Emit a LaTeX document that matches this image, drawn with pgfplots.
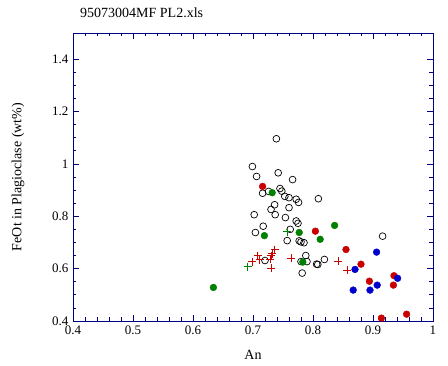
\documentclass[border=0pt]{standalone}
\usepackage{pgfplots}
\pgfplotsset{compat=1.18}
\usepackage{fontspec}
\setmainfont{Liberation Serif}
\definecolor{axnavy}{RGB}{0,0,128}
\definecolor{mred}{RGB}{200,0,0}
\definecolor{mgreen}{RGB}{0,128,0}
\definecolor{mblue}{RGB}{0,0,205}
\begin{document}
\begin{tikzpicture}[x=1pt,y=1pt]
\useasboundingbox (-73,-45) rectangle (375,321);
\begin{axis}[
  at={(0,0)}, anchor=south west,
  scale only axis, width=360pt, height=288pt,
  xmin=0.4, xmax=1, ymin=0.4, ymax=1.5,
  xtick={0.4,0.5,...,1.0}, ytick={0.4,0.6,...,1.4},
  minor x tick num=4, minor y tick num=3,
  tick align=inside,
  major tick length=6pt, minor tick length=3.5pt,
  axis line style={axnavy, line width=0.8pt},
  every tick/.style={axnavy, line width=0.8pt},
  tick label style={font=\fontsize{13}{15}\selectfont, text=black},
  /pgf/number format/assume math mode=true,
  xticklabel style={yshift=-1pt},
  yticklabel style={xshift=-1pt},
  xlabel={An}, ylabel={FeOt in Plagioclase (wt\%)},
  label style={font=\fontsize{14}{16}\selectfont},
  xlabel style={at={(0.5,0)}, anchor=center, yshift=-34pt},
  ylabel style={at={(0,0.5)}, anchor=center, rotate=0, yshift=55pt},
  title={95073004MF PL2.xls},
  title style={at={(0,1)}, anchor=south west, xshift=7pt, yshift=9pt, font=\fontsize{14}{16}\selectfont, inner sep=0pt},
  clip=false,
]
% open circles
\addplot[only marks, mark=o, mark size=3.4pt, black, mark options={line width=0.7pt}] coordinates {
(0.739,1.096) (0.699,0.990) (0.706,0.952) (0.742,0.966) (0.766,0.940)
(0.716,0.888) (0.726,0.895) (0.745,0.906) (0.748,0.896) (0.753,0.876)
(0.760,0.871) (0.772,0.865) (0.776,0.853) (0.809,0.867) (0.736,0.844)
(0.730,0.826) (0.737,0.806) (0.760,0.833) (0.702,0.806) (0.754,0.795)
(0.772,0.782) (0.775,0.773) (0.717,0.762) (0.704,0.738) (0.762,0.750)
(0.757,0.707) (0.777,0.706) (0.780,0.702) (0.785,0.699) (0.788,0.650)
(0.780,0.627) (0.790,0.627) (0.806,0.617) (0.808,0.616) (0.819,0.635)
(0.782,0.583) (0.720,0.631) (0.916,0.724)
};
% red filled
\addplot[only marks, mark=*, mark size=3.4pt, mred, mark options={draw=mred, fill=mred}] coordinates {
(0.716,0.914) (0.804,0.743) (0.855,0.673) (0.880,0.617) (0.894,0.552)
(0.935,0.573) (0.934,0.537) (0.914,0.411) (0.956,0.426)
};
% green filled
\addplot[only marks, mark=*, mark size=3.4pt, mgreen, mark options={draw=mgreen, fill=mgreen}] coordinates {
(0.634,0.528) (0.732,0.890) (0.719,0.726) (0.836,0.765) (0.777,0.738)
(0.812,0.712) (0.783,0.625)
};
% green plus
\addplot[only marks, mark=+, mark size=4pt, mgreen, mark options={line width=0.8pt}] coordinates {
(0.757,0.741) (0.691,0.608)
};
% red plus
\addplot[only marks, mark=+, mark size=4pt, mred, mark options={line width=0.8pt}] coordinates {
(0.699,0.626) (0.708,0.650) (0.711,0.634) (0.730,0.650) (0.732,0.657)
(0.729,0.635) (0.736,0.673) (0.730,0.602) (0.764,0.639) (0.842,0.629)
(0.857,0.594)
};
% blue filled
\addplot[only marks, mark=*, mark size=3.4pt, mblue, mark options={draw=mblue, fill=mblue}] coordinates {
(0.870,0.597) (0.906,0.663) (0.941,0.563) (0.867,0.518) (0.895,0.518)
(0.907,0.537)
};
\end{axis}
\end{tikzpicture}
\end{document}
